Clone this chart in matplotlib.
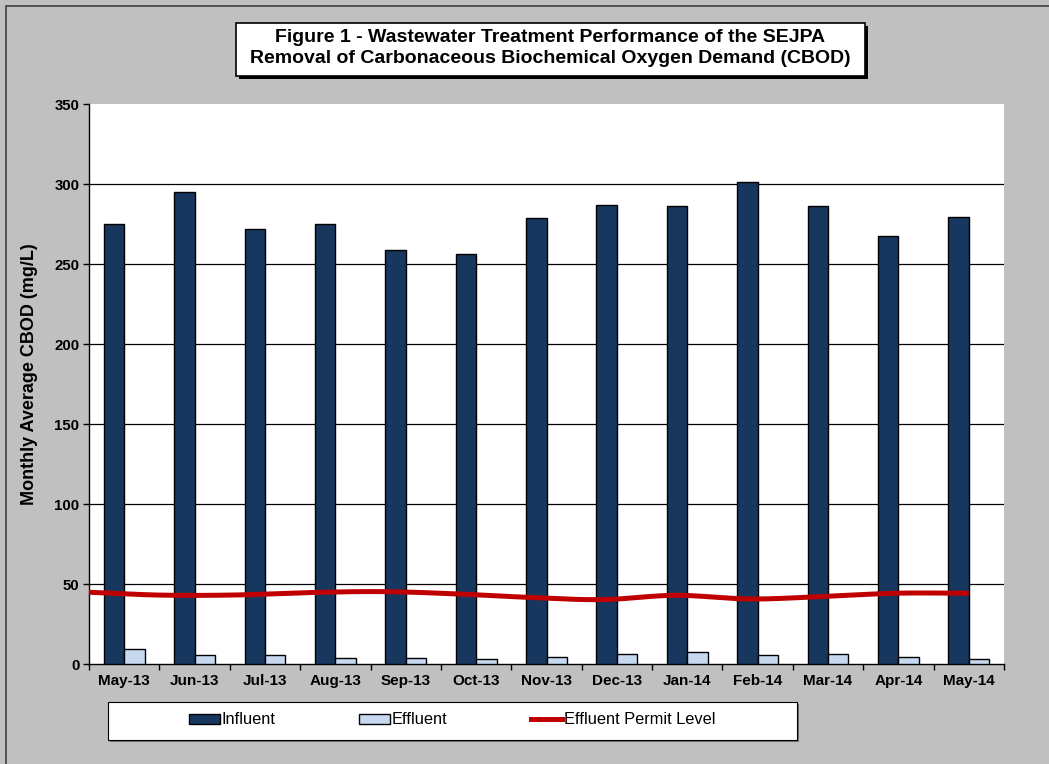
import numpy as np
import matplotlib
matplotlib.use('Agg')
import matplotlib.pyplot as plt
from matplotlib.patches import Rectangle, Patch
from matplotlib.lines import Line2D

plt.rcParams['font.family'] = ['Liberation Sans', 'DejaVu Sans']

months = ['May-13', 'Jun-13', 'Jul-13', 'Aug-13', 'Sep-13', 'Oct-13', 'Nov-13',
          'Dec-13', 'Jan-14', 'Feb-14', 'Mar-14', 'Apr-14', 'May-14']
influent = [275, 295, 272, 275, 259, 256, 279, 287, 286, 301.5, 286, 267.5, 279.5]
effluent = [9.6, 6.0, 5.8, 3.8, 3.8, 3.3, 4.6, 6.3, 7.5, 6.0, 6.7, 4.8, 3.1]
permit = [45.0, 43.2, 43.3, 44.8, 45.4, 44.0, 41.8, 40.4, 43.1, 40.8, 42.3, 44.4, 44.4]

INF_COLOR = '#17375E'
EFF_COLOR = '#C6D9F1'
LINE_COLOR = '#C00000'

W, H = 1049, 764


def catmull_rom(xs, ys, n=20):
    # smoothed line like the spreadsheet "smoothed line" option
    xs = np.asarray(xs, float)
    ys = np.asarray(ys, float)
    px = np.concatenate([[2 * xs[0] - xs[1]], xs, [2 * xs[-1] - xs[-2]]])
    py = np.concatenate([[2 * ys[0] - ys[1]], ys, [2 * ys[-1] - ys[-2]]])
    out_x, out_y = [], []
    t = np.linspace(0, 1, n, endpoint=False)
    for i in range(1, len(px) - 2):
        for arr, out in ((px, out_x), (py, out_y)):
            p0, p1, p2, p3 = arr[i - 1], arr[i], arr[i + 1], arr[i + 2]
            out.extend(0.5 * ((2 * p1) + (-p0 + p2) * t
                              + (2 * p0 - 5 * p1 + 4 * p2 - p3) * t ** 2
                              + (-p0 + 3 * p1 - 3 * p2 + p3) * t ** 3))
    out_x.append(xs[-1])
    out_y.append(ys[-1])
    return np.array(out_x), np.array(out_y)


fig = plt.figure(figsize=(W / 100, H / 100), dpi=100, facecolor='#C0C0C0')

# outer chart border
fig.add_artist(Rectangle((6 / W, -0.5), 2, 1.5 - 6 / H, transform=fig.transFigure,
                         fill=False, edgecolor='#404040', lw=1.2))

ax = fig.add_axes([89 / W, 1 - 664.3 / H, (1004 - 89) / W, (664.3 - 104) / H])
ax.set_facecolor('white')

x = np.arange(len(months))
w = 0.29
ax.bar(x - w / 2, influent, w, color=INF_COLOR, edgecolor='black', lw=1, zorder=3)
ax.bar(x + w / 2, effluent, w, color=EFF_COLOR, edgecolor='black', lw=1, zorder=3)

# permit line is drawn across the category range (as in the original sheet)
px = np.linspace(-0.5, len(months) - 1, len(permit))
sx, sy = catmull_rom(px, permit)
ax.plot(sx, sy, color=LINE_COLOR, lw=3.6, solid_capstyle='butt', zorder=4, clip_on=False)

ax.set_xlim(-0.5, len(months) - 0.5)
ax.set_ylim(0, 350)
ax.set_yticks(np.arange(0, 351, 50))
ax.yaxis.grid(True, color='black', lw=0.9, zorder=1)
ax.set_axisbelow(True)
ax.get_ygridlines()[-1].set_visible(False)
ax.get_ygridlines()[0].set_visible(False)

ax.set_xticks(np.arange(-0.5, len(months), 1.0))
ax.set_xticklabels([])
ax.set_xticks(x, minor=True)
ax.set_xticklabels(months, minor=True, fontsize=11, fontweight='bold')
ax.tick_params(axis='x', which='major', direction='out', length=4.5, width=1, color='black')
ax.tick_params(axis='x', which='minor', length=0, pad=7)
ax.tick_params(axis='y', direction='out', length=4, width=1, pad=3, labelsize=10.8)
for lab in ax.get_yticklabels():
    lab.set_fontweight('bold')

for side in ('top', 'right'):
    ax.spines[side].set_visible(False)
for side in ('left', 'bottom'):
    ax.spines[side].set_color('black')
    ax.spines[side].set_linewidth(1)

fig.text(30 / W, 1 - 374 / H, 'Monthly Average CBOD (mg/L)', rotation=90,
         ha='center', va='center', fontsize=13, fontweight='bold')

# title box with shadow
tx0, ty0, tx1, ty1 = 236, 23, 865, 76
fig.add_artist(Rectangle(((tx0 + 3) / W, 1 - (ty1 + 3) / H), (tx1 - tx0) / W, (ty1 - ty0) / H,
                         transform=fig.transFigure, facecolor='black', edgecolor='none'))
fig.add_artist(Rectangle((tx0 / W, 1 - ty1 / H), (tx1 - tx0) / W, (ty1 - ty0) / H,
                         transform=fig.transFigure, facecolor='white', edgecolor='black', lw=1.2))
fig.text((tx0 + tx1) / 2 / W, 1 - 48 / H,
         'Figure 1 - Wastewater Treatment Performance of the SEJPA\n'
         'Removal of Carbonaceous Biochemical Oxygen Demand (CBOD)',
         ha='center', va='center', fontsize=14, fontweight='bold', linespacing=1.25)

# legend box
lx0, ly0, lx1, ly1 = 108, 702, 797, 740
fig.add_artist(Rectangle(((lx0 + 2) / W, 1 - (ly1 + 2) / H), (lx1 - lx0) / W, (ly1 - ly0) / H,
                         transform=fig.transFigure, facecolor='#707070', edgecolor='none'))
fig.add_artist(Rectangle((lx0 / W, 1 - ly1 / H), (lx1 - lx0) / W, (ly1 - ly0) / H,
                         transform=fig.transFigure, facecolor='white', edgecolor='black', lw=0.8))
handles = [Patch(facecolor=INF_COLOR, edgecolor='black', lw=1),
           Patch(facecolor=EFF_COLOR, edgecolor='black', lw=1),
           Line2D([0], [0], color=LINE_COLOR, lw=3.6)]
fig.legend(handles, ['Influent', 'Effluent', 'Effluent Permit Level'],
           loc='center', bbox_to_anchor=(452 / W, 1 - 720 / H), ncol=3, frameon=False,
           fontsize=11.8, handlelength=1.9, handleheight=0.6, handletextpad=0.1,
           columnspacing=5.1)

fig.savefig('out.png', dpi=100, facecolor=fig.get_facecolor())
